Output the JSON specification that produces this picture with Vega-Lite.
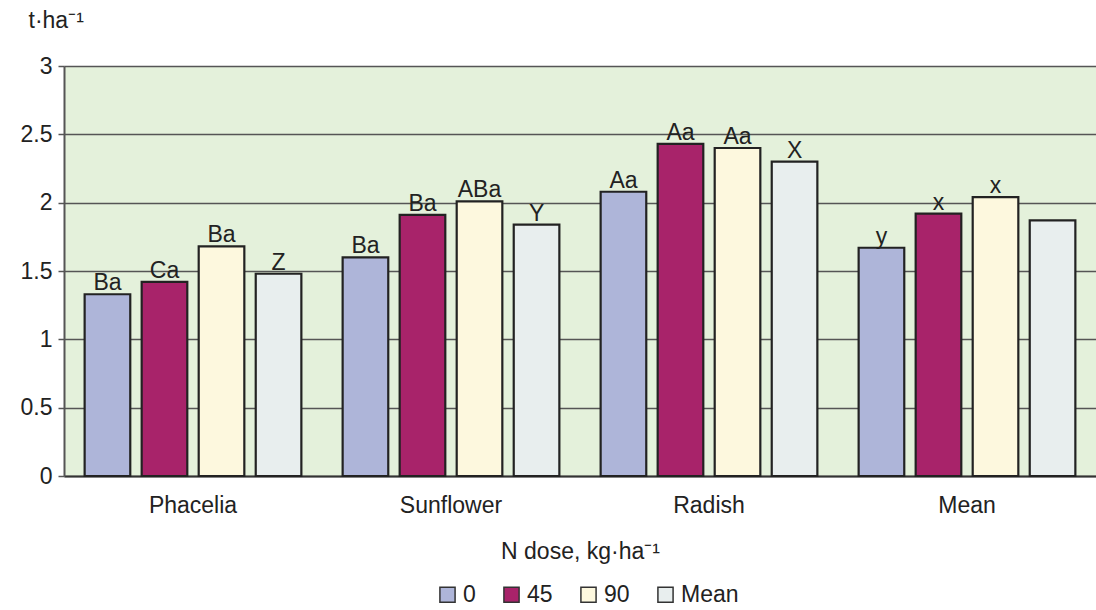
{
  "$schema": "https://vega.github.io/schema/vega-lite/v6.json",
  "autosize": {"type": "none"},
  "padding": {"left": 64, "top": 66, "right": 0, "bottom": 134},
  "width": 1032,
  "height": 410,
  "background": "white",
  "config": {
    "font": "Liberation Sans",
    "view": {"fill": "#E4F1DB", "stroke": null}
  },
  "data": {
    "values": [
      {"crop": "Phacelia", "dose": "0", "value": 1.33, "label": "Ba"},
      {"crop": "Phacelia", "dose": "45", "value": 1.42, "label": "Ca"},
      {"crop": "Phacelia", "dose": "90", "value": 1.68, "label": "Ba"},
      {"crop": "Phacelia", "dose": "Mean", "value": 1.48, "label": "Z"},
      {"crop": "Sunflower", "dose": "0", "value": 1.60, "label": "Ba"},
      {"crop": "Sunflower", "dose": "45", "value": 1.91, "label": "Ba"},
      {"crop": "Sunflower", "dose": "90", "value": 2.01, "label": "ABa"},
      {"crop": "Sunflower", "dose": "Mean", "value": 1.84, "label": "Y"},
      {"crop": "Radish", "dose": "0", "value": 2.08, "label": "Aa"},
      {"crop": "Radish", "dose": "45", "value": 2.43, "label": "Aa"},
      {"crop": "Radish", "dose": "90", "value": 2.40, "label": "Aa"},
      {"crop": "Radish", "dose": "Mean", "value": 2.30, "label": "X"},
      {"crop": "Mean", "dose": "0", "value": 1.67, "label": "y"},
      {"crop": "Mean", "dose": "45", "value": 1.92, "label": "x"},
      {"crop": "Mean", "dose": "90", "value": 2.04, "label": "x"},
      {"crop": "Mean", "dose": "Mean", "value": 1.87, "label": ""}
    ]
  },
  "encoding": {
    "x": {
      "field": "crop", "type": "nominal",
      "sort": ["Phacelia", "Sunflower", "Radish", "Mean"],
      "scale": {"paddingInner": 0.16, "paddingOuter": 0.08},
      "axis": {
        "title": "N dose, kg·ha⁻¹",
        "titleFontSize": 23, "titleFontWeight": "normal", "titleColor": "#222",
        "titlePadding": 23,
        "labelAngle": 0, "labelFontSize": 23, "labelColor": "#222", "labelPadding": 18,
        "ticks": false, "domainColor": "#333", "domainWidth": 2
      }
    },
    "xOffset": {
      "field": "dose", "type": "nominal",
      "sort": ["0", "45", "90", "Mean"],
      "scale": {"paddingInner": 0.2, "paddingOuter": 0}
    },
    "y": {
      "field": "value", "type": "quantitative",
      "scale": {"domain": [0, 3], "nice": false},
      "axis": {
        "values": [0, 0.5, 1, 1.5, 2, 2.5, 3],
        "format": "~g",
        "title": "t·ha⁻¹",
        "titleAngle": 0, "titleAlign": "left", "titleBaseline": "middle",
        "titleX": -36, "titleY": -46,
        "titleFontSize": 23, "titleFontWeight": "normal", "titleColor": "#222",
        "labelFontSize": 23, "labelColor": "#222", "labelPadding": 6,
        "tickSize": 6, "tickColor": "#555", "tickWidth": 1.5,
        "domainColor": "#555", "domainWidth": 2,
        "grid": true, "gridColor": "#555", "gridWidth": 1.5
      }
    }
  },
  "layer": [
    {
      "mark": {"type": "bar", "stroke": "#222", "strokeWidth": 2.2},
      "encoding": {
        "color": {
          "field": "dose", "type": "nominal",
          "sort": ["0", "45", "90", "Mean"],
          "scale": {"domain": ["0", "45", "90", "Mean"], "range": ["#AEB5D9", "#A8236A", "#FDF8DE", "#E8EEEE"]},
          "legend": {
            "title": null,
            "orient": "none",
            "direction": "horizontal",
            "legendX": 372,
            "legendY": 517,
            "symbolType": "square",
            "symbolSize": 230,
            "symbolStrokeColor": "#333",
            "symbolStrokeWidth": 1.5,
            "labelFontSize": 23,
            "labelColor": "#222",
            "labelOffset": 4,
            "columnPadding": 24
          }
        }
      }
    },
    {
      "mark": {"type": "text", "baseline": "alphabetic", "dy": -4, "fontSize": 23, "color": "#222"},
      "encoding": {"text": {"field": "label"}}
    }
  ]
}
